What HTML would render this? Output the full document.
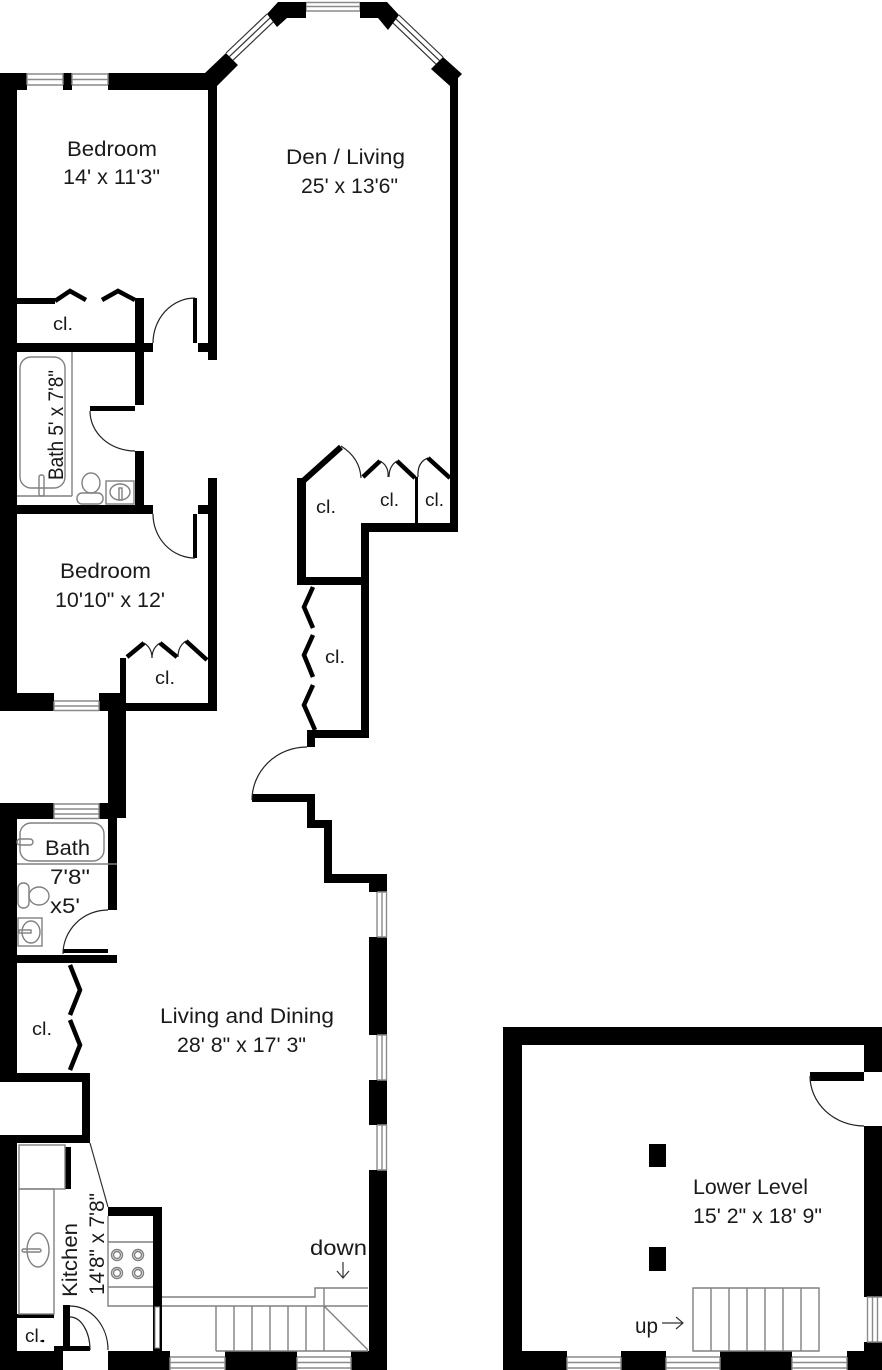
<!DOCTYPE html>
<html><head><meta charset="utf-8"><style>
html,body{margin:0;padding:0;background:#fff}
svg{display:block}
text{font-family:"Liberation Sans",sans-serif;font-size:21px;fill:#1a1a1a}
.s{font-size:18px}
.g{fill:none;stroke:#808080;stroke-width:1.4}
.w{fill:#fff;stroke:none}
.wl{stroke:#8a8a8a;stroke-width:1.4;fill:none}
.dl{stroke:#333;stroke-width:1.2;fill:none}
.bf{stroke:#000;stroke-width:4.5;fill:none;stroke-linejoin:miter}
.arc{stroke:#222;stroke-width:1.2;fill:none}
</style></head><body>
<svg width="882" height="1370" viewBox="0 0 882 1370" xmlns="http://www.w3.org/2000/svg">
<rect width="882" height="1370" fill="#fff"/>

<!-- ============ UPPER BEDROOM ============ -->
<g fill="#000">
<rect x="0" y="73" width="17" height="638"/>
<rect x="0" y="73" width="208" height="17"/>
<rect x="208" y="73" width="9" height="287"/>
<rect x="198" y="343" width="19" height="9"/>
<polygon points="205,73 226,53 238,65 217,86"/>
<rect x="17" y="298" width="38" height="6"/>
<rect x="135" y="298" width="9" height="107"/>
<rect x="17" y="343" width="136" height="9"/>
<rect x="193" y="298" width="4" height="45"/>
</g>
<!-- top windows -->
<rect class="w" x="27" y="73" width="36" height="17"/>
<rect class="w" x="72" y="73" width="36" height="17"/>
<path class="wl" d="M27,74H63M27,79.5H63M27,85H63M27,73V85M63,73V85M72,74H108M72,79.5H108M72,85H108M72,73V85M108,73V85"/>
<polyline class="bf" points="55,301 70,291 86,300"/>
<polyline class="bf" points="102,300 118,291 135,300"/>
<path class="arc" d="M153,343 A42,45 0 0 1 195,298"/>

<!-- ============ BAY / DEN ============ -->
<polygon class="w" points="226,53 267,14 277,27 238,65"/>
<path class="dl" d="M226,53L267,14M229.4,56.6L270.4,17.6M232.9,60.3L273.9,21.3"/>
<polygon class="w" points="399,15 443,57 431,69 388,30"/>
<path class="dl" d="M399,15L443,57M395.5,18.6L439.5,60.6M392.1,22.2L436.1,64.2"/>
<rect class="w" x="306" y="2" width="54" height="16"/>
<path class="wl" d="M306,2.5H360M306,6.5H360M306,11H360M306,2V11M360,2V11"/>
<g fill="#000">
<polygon points="267,14 278,2 306,2 306,18 287,18 277,27"/>
<polygon points="360,2 387,2 399,15 388,30 378,18 360,18"/>
<polygon points="443,57 462,74 458,78 458,100 450,100 450,86 431,69"/>
<rect x="450" y="86" width="8" height="446"/>
<rect x="361" y="523" width="97" height="9"/>
<rect x="361" y="523" width="8" height="215"/>
<rect x="297" y="478" width="9" height="107"/>
<rect x="297" y="577" width="72" height="8"/>
<rect x="415" y="477" width="3" height="46"/>
</g>
<!-- den closets -->
<line x1="302" y1="482" x2="341" y2="447" stroke="#000" stroke-width="6"/>
<path class="arc" d="M341,446 Q360,458 361,478"/>
<line x1="363" y1="477" x2="380" y2="461" stroke="#000" stroke-width="4.5"/>
<line x1="397" y1="461" x2="415" y2="478" stroke="#000" stroke-width="4.5"/>
<path class="arc" d="M380,461 Q389,466 388,477 M397,461 Q389,466 389,477"/>
<path class="arc" d="M418,477 Q417,462 428,458"/>
<line x1="428" y1="458" x2="450" y2="478" stroke="#000" stroke-width="4.5"/>
<!-- bifold closet -->
<polyline class="bf" points="313,587 304,607 313,628"/>
<polyline class="bf" points="313,635 304,655 313,677"/>
<polyline class="bf" points="313,685 304,705 315,730"/>

<!-- ============ UPPER BATH ============ -->
<g fill="#000">
<rect x="90" y="406" width="45" height="5"/>
<rect x="135" y="451" width="9" height="63"/>
<rect x="17" y="505" width="136" height="9"/>
</g>
<path class="arc" d="M90,411 A45,40 0 0 0 135,451"/>
<rect class="g" x="20" y="357" width="45" height="131" rx="11"/>
<path class="g" d="M72,352V496M17,496H72"/>
<rect class="g" x="39" y="475" width="5" height="21" rx="2" fill="#fff"/>
<ellipse class="g" cx="91" cy="483" rx="9" ry="10"/>
<rect class="g" x="77" y="493" width="26" height="11" rx="5"/>
<rect class="g" x="106" y="481" width="28" height="23"/>
<ellipse class="g" cx="120" cy="492" rx="10" ry="8"/>
<rect class="g" x="119" y="488" width="3" height="12" fill="#fff"/>

<!-- ============ HALL / BEDROOM 2 ============ -->
<g fill="#000">
<rect x="208" y="478" width="9" height="233"/>
<rect x="198" y="505" width="19" height="9"/>
<rect x="193" y="514" width="4" height="44"/>
<rect x="0" y="693" width="126" height="18"/>
<rect x="108" y="693" width="18" height="125"/>
<rect x="120" y="658" width="6" height="35"/>
<rect x="126" y="703" width="91" height="8"/>
</g>
<path class="arc" d="M153,514 A42,44 0 0 0 195,558"/>
<rect class="w" x="54" y="693" width="45" height="18"/>
<path class="wl" d="M54,701H99M54,706H99M54,710.5H99M54,701V711M99,701V711"/>
<line x1="127" y1="657" x2="144" y2="643" stroke="#000" stroke-width="4.5"/>
<path class="arc" d="M144,643 Q152,648 152,658 M152,658 Q152,648 160,643"/>
<line x1="160" y1="643" x2="177" y2="657" stroke="#000" stroke-width="4.5"/>
<path class="arc" d="M178,657 Q178,646 186,641"/>
<line x1="186" y1="641" x2="207" y2="660" stroke="#000" stroke-width="4.5"/>

<!-- ============ LOWER BATH ============ -->
<g fill="#000">
<rect x="0" y="803" width="117" height="16"/>
<rect x="108" y="803" width="9" height="107"/>
<rect x="0" y="803" width="17" height="279"/>
<rect x="63" y="949" width="45" height="4"/>
<rect x="17" y="955" width="100" height="8"/>
<rect x="0" y="1073" width="90" height="9"/>
<rect x="82" y="1073" width="8" height="70"/>
<rect x="0" y="1135" width="90" height="8"/>
</g>
<rect class="w" x="54" y="803" width="45" height="16"/>
<path class="wl" d="M54,804H99M54,809H99M54,814H99M54,818.5H99M54,803V819M99,803V819"/>
<rect class="g" x="20" y="823" width="84" height="38" rx="11"/>
<rect class="g" x="17" y="839" width="16" height="6" rx="3" fill="#fff"/>
<path class="g" d="M17,864H117"/>
<rect class="g" x="18" y="883" width="11" height="25" rx="5"/>
<ellipse class="g" cx="39" cy="896" rx="10" ry="9"/>
<rect class="g" x="18" y="918" width="24" height="28"/>
<ellipse class="g" cx="31" cy="932" rx="9" ry="11"/>
<rect class="g" x="19" y="930" width="12" height="3" fill="#fff"/>
<path class="arc" d="M63,954 A45,44 0 0 1 108,910"/>
<polyline class="bf" points="70,965 80,990 70,1015"/>
<polyline class="bf" points="70,1020 80,1045 70,1070"/>

<!-- ============ LIVING ============ -->
<g fill="#000">
<rect x="307" y="730" width="61" height="8"/>
<rect x="307" y="730" width="8" height="17"/>
<rect x="252" y="794" width="55" height="8"/>
<rect x="307" y="794" width="8" height="34"/>
<rect x="307" y="820" width="25" height="8"/>
<rect x="324" y="820" width="8" height="63"/>
<rect x="324" y="874" width="63" height="9"/>
<rect x="369" y="874" width="18" height="18"/>
<rect x="369" y="937" width="18" height="98"/>
<rect x="369" y="1080" width="18" height="45"/>
<rect x="369" y="1170" width="18" height="200"/>
</g>
<path class="arc" d="M307,747 A55,53 0 0 0 252,800"/>
<path class="wl" d="M377,892V937M382,892V937M386.5,892V937M377,892H387M377,937H387"/>
<path class="wl" d="M377,1035V1080M382,1035V1080M386.5,1035V1080M377,1035H387M377,1080H387"/>
<path class="wl" d="M377,1125V1170M382,1125V1170M386.5,1125V1170M377,1125H387M377,1170H387"/>

<!-- ============ KITCHEN ============ -->
<g fill="#000">
<rect x="0" y="1135" width="17" height="235"/>
<rect x="65" y="1147" width="6" height="42"/>
<rect x="17" y="1314" width="37" height="4"/>
<rect x="108" y="1207" width="54" height="9"/>
<rect x="153" y="1207" width="9" height="144"/>
<rect x="63" y="1305" width="7" height="45"/>
<rect x="54" y="1346" width="36" height="5"/>
<rect x="0" y="1351" width="63" height="19"/>
<rect x="108" y="1351" width="62" height="19"/>
<rect x="225" y="1351" width="72" height="19"/>
<rect x="351" y="1351" width="36" height="19"/>
<circle cx="43" cy="1341" r="1.3"/>
</g>
<rect x="155" y="1307" width="4.5" height="41" fill="#fff" stroke="#8a8a8a" stroke-width="1"/>
<rect class="g" x="19" y="1145" width="46" height="44"/>
<rect class="g" x="19" y="1189" width="35" height="125"/>
<ellipse class="g" cx="38" cy="1250" rx="11" ry="17"/>
<rect class="g" x="22" y="1249" width="19" height="3" rx="1.5" fill="#fff"/>
<line x1="90" y1="1143" x2="108" y2="1207" stroke="#333" stroke-width="1.2"/>
<path class="g" d="M108,1216V1306H153M108,1242H153M108,1287H153"/>
<g class="g">
<circle cx="117" cy="1255" r="5.5"/><circle cx="117" cy="1255" r="3.5"/>
<circle cx="138" cy="1255" r="5.5"/><circle cx="138" cy="1255" r="3.5"/>
<circle cx="117" cy="1273" r="5.5"/><circle cx="117" cy="1273" r="3.5"/>
<circle cx="138" cy="1273" r="5.5"/><circle cx="138" cy="1273" r="3.5"/>
</g>
<path class="arc" d="M70,1306 A38,44 0 0 1 108,1350"/>
<path class="arc" d="M70,1317 A20,33 0 0 1 90,1350"/>
<rect class="w" x="170" y="1351" width="55" height="19"/>
<rect class="w" x="297" y="1351" width="54" height="19"/>
<path class="wl" d="M170,1357H225M170,1362.5H225M170,1368H225M170,1357V1370M225,1357V1370M297,1357H351M297,1362.5H351M297,1368H351M297,1357V1370M351,1357V1370"/>
<!-- stairs -->
<path class="g" d="M162,1297H315V1288H368M162,1306H368M216,1306V1351M234,1306V1351M252,1306V1351M270,1306V1351M288,1306V1351M306,1306V1351M324,1288V1351M216,1351H368M324,1306L368,1350"/>
<path class="dl" d="M343,1262V1278M337,1271L343,1278L349,1271"/>

<!-- ============ LOWER LEVEL ============ -->
<g fill="#000">
<rect x="503" y="1027" width="379" height="18"/>
<rect x="503" y="1027" width="19" height="343"/>
<rect x="864" y="1027" width="18" height="45"/>
<rect x="810" y="1072" width="54" height="9"/>
<rect x="864" y="1126" width="18" height="171"/>
<rect x="864" y="1342" width="18" height="28"/>
<rect x="503" y="1351" width="64" height="19"/>
<rect x="621" y="1351" width="45" height="19"/>
<rect x="720" y="1351" width="72" height="19"/>
<rect x="847" y="1351" width="35" height="19"/>
<rect x="649" y="1144" width="17" height="23"/>
<rect x="649" y="1247" width="17" height="24"/>
</g>
<path class="arc" d="M810,1076 A54,50 0 0 0 864,1126"/>
<path class="wl" d="M867.5,1297V1342M872.5,1297V1342M877.5,1297V1342M867,1297H882M867,1342H882"/>
<path class="wl" d="M567,1357H621M567,1362.5H621M567,1368H621M567,1357V1370M621,1357V1370M666,1357H720M666,1362.5H720M666,1368H720M666,1357V1370M720,1357V1370M792,1357H847M792,1362.5H847M792,1368H847M792,1357V1370M847,1357V1370"/>
<path class="g" d="M693,1288H819V1351H693ZM711,1288V1351M729,1288V1351M747,1288V1351M765,1288V1351M783,1288V1351M801,1288V1351"/>
<path class="dl" d="M662,1323H682M676,1317L683,1323L676,1329"/>

<!-- ============ TEXT ============ -->
<text x="67" y="156" textLength="90" lengthAdjust="spacingAndGlyphs">Bedroom</text>
<text x="63" y="184" textLength="97" lengthAdjust="spacingAndGlyphs">14' x 11'3"</text>
<text x="286" y="164" textLength="119" lengthAdjust="spacingAndGlyphs">Den / Living</text>
<text x="301" y="193" textLength="97" lengthAdjust="spacingAndGlyphs">25' x 13'6"</text>
<text class="s" x="53" y="330" textLength="20" lengthAdjust="spacingAndGlyphs">cl.</text>
<text transform="translate(63,425) rotate(-90)" text-anchor="middle" textLength="110" lengthAdjust="spacingAndGlyphs">Bath 5' x 7'8"</text>
<text x="60" y="578" textLength="91" lengthAdjust="spacingAndGlyphs">Bedroom</text>
<text x="55" y="607" textLength="110" lengthAdjust="spacingAndGlyphs">10'10" x 12'</text>
<text class="s" x="155" y="684" textLength="20" lengthAdjust="spacingAndGlyphs">cl.</text>
<text class="s" x="316" y="513" textLength="20" lengthAdjust="spacingAndGlyphs">cl.</text>
<text class="s" x="380" y="506" textLength="19" lengthAdjust="spacingAndGlyphs">cl.</text>
<text class="s" x="425" y="506" textLength="19" lengthAdjust="spacingAndGlyphs">cl.</text>
<text class="s" x="325" y="663" textLength="20" lengthAdjust="spacingAndGlyphs">cl.</text>
<text x="45" y="855" textLength="45" lengthAdjust="spacingAndGlyphs">Bath</text>
<text x="50" y="884" textLength="40" lengthAdjust="spacingAndGlyphs">7'8"</text>
<text x="50" y="913" textLength="30" lengthAdjust="spacingAndGlyphs">x5'</text>
<text class="s" x="32" y="1035" textLength="20" lengthAdjust="spacingAndGlyphs">cl.</text>
<text x="160" y="1023" textLength="174" lengthAdjust="spacingAndGlyphs">Living and Dining</text>
<text x="177" y="1052" textLength="129" lengthAdjust="spacingAndGlyphs">28' 8" x 17' 3"</text>
<text transform="translate(77,1260) rotate(-90)" text-anchor="middle" textLength="74" lengthAdjust="spacingAndGlyphs">Kitchen</text>
<text transform="translate(104,1244) rotate(-90)" text-anchor="middle" textLength="102" lengthAdjust="spacingAndGlyphs">14'8" x 7'8"</text>
<text class="s" x="25" y="1342" textLength="19" lengthAdjust="spacingAndGlyphs">cl.</text>
<text x="310" y="1255" textLength="57" lengthAdjust="spacingAndGlyphs">down</text>
<text x="693" y="1194" textLength="115" lengthAdjust="spacingAndGlyphs">Lower Level</text>
<text x="693" y="1223" textLength="129" lengthAdjust="spacingAndGlyphs">15' 2" x 18' 9"</text>
<text x="635" y="1333" textLength="23" lengthAdjust="spacingAndGlyphs">up</text>
</svg>
</body></html>
